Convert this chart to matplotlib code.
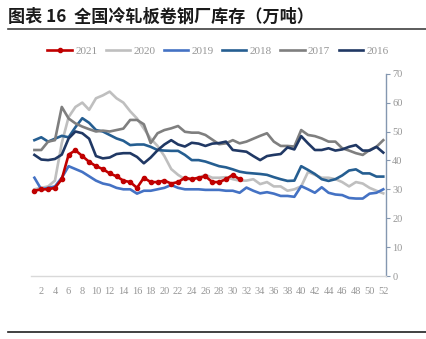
import matplotlib.pyplot as plt
import numpy as np

# weekly cold-rolled coil inventory at steel mills, 10k tonnes
weeks = np.arange(1, 53)

inv_2021 = [29.5, 30, 30, 30.5, 33.5, 42, 43.5, 41.5, 39.5, 38, 37, 35.5, 34.5, 33, 32.5, 30.5,
            34, 32.5, 32.5, 33, 32, 32.5, 34, 33.5, 34, 34.5, 32.5, 32.5, 33.5, 35, 33.5]

inv_2020 = [30, 30.5, 31, 33, 46, 55, 58.5, 60, 57.5, 61.5, 62.5, 63.8, 61.5, 60, 57, 54.5,
            51, 47.5, 45, 41.5, 37, 35, 33.5, 33.5, 34, 35, 34, 34, 34.2, 33.5, 33, 33,
            33.5, 31.8, 32.5, 31, 31, 29.5, 30, 31, 36, 35, 34, 34, 33.5, 32.5, 31, 32.5,
            32, 30.5, 29.5, 28.6]

inv_2019 = [34, 30, 30.5, 31, 34, 38, 37, 36, 34.5, 33, 32, 31.5, 30.5, 30, 30, 28.5,
            29.5, 29.5, 30, 30.5, 31.5, 30.5, 30, 30, 30, 29.8, 29.8, 29.8, 29.5, 29.5, 28.8, 30.6,
            29.5, 28.6, 29, 28.5, 27.7, 27.7, 27.4, 31.1, 30, 28.8, 30.7, 28.8, 28.2, 28, 27, 26.8,
            26.8, 28.5, 28.8, 30]

inv_2018 = [47, 48, 46.5, 47.5, 48.5, 48, 51.5, 54.6, 53, 50.5, 50, 48.8, 47.6, 46.8, 45.3, 45.5,
            45.5, 44.7, 43.6, 43.4, 43.3, 43.3, 41.9, 40.1, 40.1, 39.6, 38.8, 38, 37.6, 36.9, 36.1, 35.7,
            35.5, 35.3, 35, 34.2, 33.5, 32.9, 33, 38, 36.7, 35.3, 33.5, 32.9, 33.5, 34.8, 36.5, 36.9,
            35.5, 35.5, 34.4, 34.4]

inv_2017 = [43.6, 43.6, 46.5, 47, 58.5, 54.5, 52.8, 51.7, 50.8, 50, 50.3, 50, 50.5, 51, 54, 54,
            52.5, 46, 49.4, 50.5, 51.1, 51.9, 49.9, 49.6, 49.6, 48.8, 47.2, 45.6, 45.9, 47, 45.9, 46.5,
            47.5, 48.5, 49.4, 46.5, 45, 45, 44.8, 50.5, 48.8, 48.4, 47.6, 46.5, 46.5, 44.2, 43.4, 42.5,
            41.9, 43.6, 44.7, 47]

inv_2016 = [41.9, 40.3, 40.1, 40.5, 42, 47.6, 50, 49.4, 47.5, 41.5, 40.7, 41, 42.2, 42.5, 42.5, 41.2,
            39, 41, 43.5, 45.5, 47, 45.5, 44.8, 46.1, 45.8, 45, 45.8, 46, 46.5, 43.6, 43.3, 43,
            41.5, 40.1, 41.5, 41.9, 42.2, 44.5, 43.8, 48.4, 45.9, 43.6, 43.6, 44.2, 43.4, 43.8, 44.7, 45.3,
            43.4, 43.4, 44.7, 42.7]

x_ticks = list(range(2, 53, 2))
y_ticks = [0, 10, 20, 30, 40, 50, 60, 70]

serif = 'Liberation Serif'
label_grey = '#969696'

fig = plt.figure(figsize=(4.27, 3.39), dpi=100)

# title + rules
fig.text(8 / 427, 1 - 17 / 339, '图表 16  全国冷轧板卷钢厂库存（万吨）',
         fontsize=12.3, fontweight='bold', family=['Noto Sans CJK SC', 'DejaVu Sans'],
         color='#1a1a1a', va='center', ha='left')
fig.text(68 / 427, 1 + 2 / 339, 'HUAAN RESEARCH', fontsize=6, family=serif,
         color='#a0a0a0', va='center', ha='left')
fig.add_artist(plt.Line2D([8 / 427, 1], [1 - 29 / 339] * 2, color='#404040', lw=1.2))
fig.add_artist(plt.Line2D([8 / 427, 1], [1 - 332 / 339] * 2, color='#202020', lw=1.2))

ax = fig.add_axes([31 / 427, 1 - 276 / 339, (386 - 31) / 427, (276 - 73.7) / 339])

lw = 1.9
ax.plot(weeks, inv_2020, color='#BFBFBF', lw=lw, label='2020')
ax.plot(weeks, inv_2019, color='#4472C4', lw=lw, label='2019')
ax.plot(weeks, inv_2018, color='#255E91', lw=lw, label='2018')
ax.plot(weeks, inv_2017, color='#7F7F7F', lw=lw, label='2017')
ax.plot(weeks, inv_2016, color='#203864', lw=lw, label='2016')
ax.plot(weeks[:len(inv_2021)], inv_2021, color='#C00000', lw=lw, marker='o',
        markersize=3.0, label='2021')

ax.set_xlim(0.5, 52.4)
ax.set_ylim(0, 70)
ax.set_xticks(x_ticks)
ax.set_yticks(y_ticks)

ax.yaxis.tick_right()
ax.tick_params(axis='x', length=0, pad=8, labelsize=7.5, labelcolor=label_grey)
ax.tick_params(axis='y', length=3, width=0.8, color='#8497B0', pad=1.5,
               labelsize=7.5, labelcolor=label_grey)
for lab in ax.get_xticklabels() + ax.get_yticklabels():
    lab.set_family(serif)

for side in ['top', 'left']:
    ax.spines[side].set_visible(False)
ax.spines['right'].set_color('#8497B0')
ax.spines['right'].set_linewidth(1.0)
ax.spines['bottom'].set_color('#D9D9D9')
ax.spines['bottom'].set_linewidth(1.0)

# legend in the 2021..2016 order
handles, labels = ax.get_legend_handles_labels()
order = [labels.index(y) for y in ['2021', '2020', '2019', '2018', '2017', '2016']]
leg = fig.legend([handles[i] for i in order], [labels[i] for i in order],
                 loc='center', bbox_to_anchor=(218 / 427, 1 - 51 / 339), ncol=6,
                 frameon=False, handlelength=2.2, handletextpad=0.3, columnspacing=0.75,
                 prop={'family': serif, 'size': 8})
for t in leg.get_texts():
    t.set_color(label_grey)

fig.savefig('out.png', dpi=100)
